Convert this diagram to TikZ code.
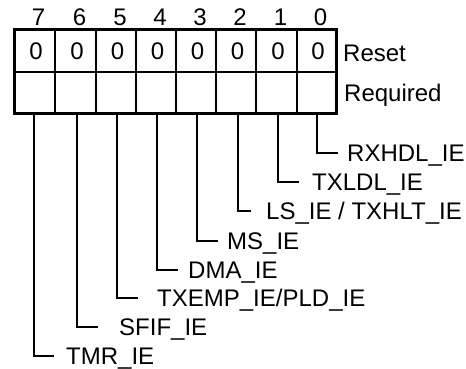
\documentclass[tikz,border=0pt]{standalone}
\usepackage{fontspec}
\setmainfont{Liberation Sans}
\begin{document}
\begin{tikzpicture}[x=1pt,y=-1pt,
  txt/.style={inner sep=0pt, font=\fontsize{24}{28}\selectfont},
  lbl/.style={txt, anchor=base west},
  num/.style={txt, anchor=base},
  lead/.style={line width=2pt, line cap=rect},
  grid/.style={line width=2pt},
  frame/.style={line width=3pt}]
\useasboundingbox (0,0) rectangle (466,368);
% register
\foreach \x in {55,96,136,176,216,256,297}
  \draw[grid] (\x,29) -- (\x,113);
\draw[line width=2.5pt] (14,72) -- (336,72);
\draw[frame] (14,29) rectangle (336,113);
% bit numbers and reset values
\foreach \c/\b [count=\i] in {34.5/7,75.5/6,116/5,156/4,196/3,236/2,276.5/1,316.5/0} {
  \node[num] (bit\b) at (\c+4,25) {\b};
  \node[num] (rst\b) at (\c+1.5,59) {0};
}
\node[lbl] (reset) at (343,61) {Reset};
\node[lbl] (req) at (344,101.5) {Required};
% leaders
\foreach \b/\x/\y/\e/\t/\s in {
  0/317/153/337/347/{RXHDL\_IE},
  1/278/182/298/312/{TXLDL\_IE},
  2/238/211/250/266/{LS\_IE / TXHLT\_IE},
  3/197/241/217/227/{MS\_IE},
  4/157/270/177/188/{DMA\_IE},
  5/117/298/137/157/{TXEMP\_IE/PLD\_IE},
  6/77/327/97/119/{SFIF\_IE},
  7/34/356/53/66/{TMR\_IE}} {
  \coordinate (top\b) at (\x,114.5);
  \coordinate (end\b) at (\e,\y);
  \node[lbl] (name\b) at (\t,\y+8) {\s};
  \draw[lead] (top\b) |- (end\b);
}
\end{tikzpicture}
\end{document}
